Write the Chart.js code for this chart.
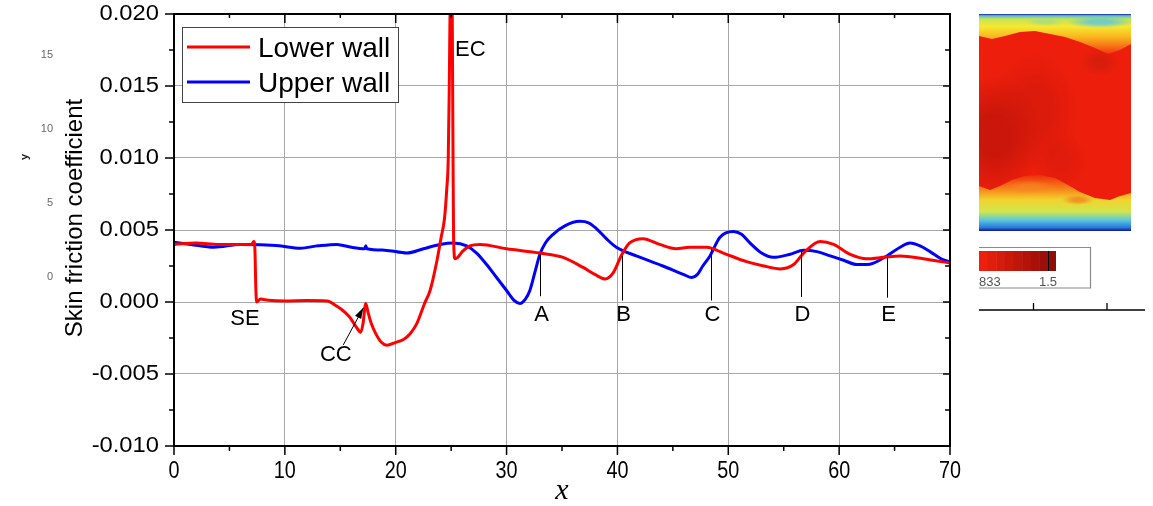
<!DOCTYPE html>
<html>
<head>
<meta charset="utf-8">
<script src="https://cdn.jsdelivr.net/npm/chart.js@4.4.1/dist/chart.umd.min.js"></script>
<style>
  html, body { margin: 0; padding: 0; background: #fff; }
  canvas { display: block; }
</style>
</head>
<body>
<canvas id="cf" width="1153" height="506"></canvas>
<script>
// Skin friction coefficient along the lower and upper walls
const lowerX = [0, 2, 4, 6, 7.0, 7.2, 7.3, 7.38, 7.45, 7.8, 8.5, 10, 12, 13.8, 14.7, 15.4, 15.9, 16.4, 16.85,
  17.05, 17.3, 17.5, 17.8, 18.2, 18.7, 19.2, 20.0, 20.7, 21.3, 21.9, 22.6, 23.1, 23.7, 24.1, 24.4,
  24.6, 24.74, 24.83, 24.9, 25.0, 25.1, 25.17, 25.22, 25.35, 25.6, 26.0, 26.7, 27.6, 30.0, 33.0, 35.1, 36.9,
  38.0, 38.9, 39.6, 40.4, 41.1, 42.3, 43.8, 45.3, 46.5, 48.05, 49.55, 51.65, 53.2, 54.7, 55.9, 56.8, 58.3,
  59.5, 61.0, 62.5, 64.0, 65.5, 67.6, 70];
const lowerCf = [0.0040, 0.0041, 0.0040, 0.0040, 0.0040, 0.0042, 0.0036, 0.0010, 0.0000, 0.0002, 0.00012,
  0.00007, 0.0001, 0.00007, -0.0003, -0.0007, -0.0011, -0.0017, -0.0021, -0.0015, -0.0001, -0.0007, -0.0015,
  -0.0022, -0.0028, -0.0030, -0.0028, -0.0026, -0.0022, -0.0015, -0.0001, 0.0008, 0.0028, 0.0045,
  0.0058, 0.0078, 0.0100, 0.0150, 0.0200, 0.0260, 0.0200, 0.0100, 0.0045, 0.0030, 0.0031, 0.0035, 0.0039,
  0.0040, 0.0037, 0.0034, 0.0031, 0.0024, 0.0019, 0.0016, 0.0020, 0.0033, 0.0041, 0.0044, 0.0040, 0.0037,
  0.0038, 0.0038, 0.0034, 0.0028, 0.0025, 0.0023, 0.0026, 0.0034, 0.0042, 0.0040, 0.0033, 0.0030, 0.0031,
  0.0032, 0.0030, 0.0027];

const upperX = [0, 1.5, 3.6, 6.0, 7.8, 9.5, 11.4, 13.0, 14.7, 16.0, 17.2, 17.3, 17.4, 19.0, 21.0, 22.5, 24.0,
  25.2, 26.4, 27.3, 28.2, 29.1, 30.0, 30.7, 31.2, 31.7, 32.1, 32.6, 33.0, 33.5, 34.2, 35.3, 36.6, 37.4, 38.1,
  39.0, 39.9, 41.7, 44.1, 46.0, 46.7, 47.2, 47.7, 48.35, 49.25, 50.45, 51.2, 51.95, 53.0, 54.05, 55.5, 56.8,
  58.0, 59.2, 60.4, 61.6, 62.5, 63.1, 64.3, 65.5, 66.4, 67.3, 68.2, 69.2, 70];
const upperCf = [0.00415, 0.0040, 0.0038, 0.0040, 0.00397, 0.0039, 0.00374, 0.0039, 0.0040, 0.0038, 0.0037,
  0.0039, 0.0037, 0.0036, 0.0034, 0.0037, 0.0040, 0.0041, 0.0039, 0.0034, 0.0026, 0.0017, 0.0008, 0.0001,
  -0.0001, 0.0002, 0.0008, 0.0022, 0.0033, 0.0041, 0.0047, 0.0053, 0.0056, 0.0055, 0.0051, 0.0044, 0.0038,
  0.0032, 0.0025, 0.0019, 0.0017, 0.0019, 0.0025, 0.0032, 0.0045, 0.0049, 0.0047, 0.0041, 0.0034, 0.0031,
  0.0033, 0.0036, 0.0035, 0.0032, 0.0029, 0.0026, 0.0026, 0.0027, 0.0032, 0.0038, 0.0041, 0.0039, 0.0035,
  0.0030, 0.0028];

const xTickValues = [0, 10, 20, 30, 40, 50, 60, 70];
const yTickValues = [-0.010, -0.005, 0.000, 0.005, 0.010, 0.015, 0.020];
const seriesNames = ['Lower wall', 'Upper wall'];

// Marked stations along the channel
const markNames = ['A', 'B', 'C', 'D', 'E'];
const markX = [33.0, 40.4, 48.4, 56.6, 64.3];
const markTop = [0.0033, 0.0032, 0.0037, 0.0035, 0.0031];
const markBottom = [0.0004, 0.0001, 0.0001, 0.00035, 0.0003];

const toPoints = (xs, ys) => xs.map((v, i) => ({ x: v, y: ys[i] }));
const FONT = '"Liberation Sans", Arial, sans-serif';

function line(ctx, x1, y1, x2, y2) {
  ctx.beginPath(); ctx.moveTo(x1, y1); ctx.lineTo(x2, y2); ctx.stroke();
}

// Side panel: instantaneous field snapshot, colour bar and axis strip
function drawField(ctx) {
  const L = 979, T = 14, R = 1131, B = 231;
  ctx.save();
  ctx.beginPath(); ctx.rect(L, T, R - L, B - T); ctx.clip();
  ctx.fillStyle = 'rgb(238,30,12)';
  ctx.fillRect(L, T, R - L, B - T);

  const blob = (cx, cy, rx, ry, col, edge) => {
    ctx.save();
    ctx.translate(cx, cy); ctx.scale(rx, ry);
    const g = ctx.createRadialGradient(0, 0, 0, 0, 0, 1);
    g.addColorStop(0, col); g.addColorStop(0.35, col); g.addColorStop(1, edge);
    ctx.fillStyle = g;
    ctx.beginPath(); ctx.arc(0, 0, 1, 0, Math.PI * 2); ctx.fill();
    ctx.restore();
  };
  // darker core of the field
  blob(995, 135, 48, 60, 'rgba(190,20,10,0.75)', 'rgba(190,20,10,0)');
  blob(1035, 110, 45, 60, 'rgba(205,24,10,0.55)', 'rgba(205,24,10,0)');
  blob(1060, 160, 30, 30, 'rgba(210,25,10,0.45)', 'rgba(210,25,10,0)');
  blob(1100, 62, 20, 14, 'rgba(200,28,10,0.55)', 'rgba(200,28,10,0)');

  // upper boundary layer
  const topEdge = [[979, 36], [992, 39], [1005, 36], [1020, 32], [1035, 31], [1050, 34], [1065, 37],
    [1080, 42], [1095, 48], [1108, 54], [1120, 50], [1131, 44]];
  ctx.save();
  ctx.beginPath(); ctx.moveTo(L, T);
  topEdge.forEach(p => ctx.lineTo(p[0], p[1]));
  ctx.lineTo(R, T); ctx.closePath(); ctx.clip();
  let g = ctx.createLinearGradient(0, T, 0, 56);
  g.addColorStop(0, 'rgb(15,25,160)');
  g.addColorStop(0.04, 'rgb(90,185,215)');
  g.addColorStop(0.12, 'rgb(200,228,80)');
  g.addColorStop(0.3, 'rgb(246,232,50)');
  g.addColorStop(0.55, 'rgb(250,180,30)');
  g.addColorStop(0.78, 'rgb(246,110,22)');
  g.addColorStop(1, 'rgb(238,40,12)');
  ctx.fillStyle = g; ctx.fillRect(L, T, R - L, 44);
  blob(1100, 22, 34, 6, 'rgba(90,200,225,0.8)', 'rgba(90,200,225,0)');
  blob(1045, 22, 20, 4, 'rgba(150,215,150,0.6)', 'rgba(150,215,150,0)');
  ctx.restore();

  // lower boundary layer
  const botEdge = [[979, 186], [990, 190], [1000, 186], [1012, 180], [1025, 176], [1040, 175], [1055, 178],
    [1068, 185], [1080, 192], [1095, 198], [1110, 200], [1120, 196], [1131, 193]];
  ctx.save();
  ctx.beginPath(); ctx.moveTo(L, B);
  botEdge.forEach(p => ctx.lineTo(p[0], p[1]));
  ctx.lineTo(R, B); ctx.closePath(); ctx.clip();
  g = ctx.createLinearGradient(0, 174, 0, B);
  g.addColorStop(0, 'rgb(238,40,12)');
  g.addColorStop(0.22, 'rgb(246,115,24)');
  g.addColorStop(0.45, 'rgb(242,210,45)');
  g.addColorStop(0.66, 'rgb(210,230,75)');
  g.addColorStop(0.81, 'rgb(90,200,220)');
  g.addColorStop(0.94, 'rgb(40,120,220)');
  g.addColorStop(1, 'rgb(15,20,150)');
  ctx.fillStyle = g; ctx.fillRect(L, 170, R - L, B - 170);
  blob(1030, 187, 26, 7, 'rgba(246,135,35,0.6)', 'rgba(246,135,35,0)');
  blob(1078, 200, 16, 5, 'rgba(240,90,20,0.5)', 'rgba(240,90,20,0)');
  ctx.restore();
  ctx.restore();

  // colour bar
  ctx.save();
  ctx.fillStyle = '#fff';
  ctx.fillRect(979, 247, 112, 41);
  ctx.strokeStyle = '#8a8a8a'; ctx.lineWidth = 1.2;
  ctx.beginPath();
  ctx.moveTo(979, 247.5); ctx.lineTo(1090.5, 247.5); ctx.lineTo(1090.5, 288); ctx.lineTo(979, 288);
  ctx.stroke();
  const steps = 8, x0 = 979, x1 = 1048;
  for (let i = 0; i < steps; i++) {
    const t = i / (steps - 1);
    const r = Math.round(236 - t * 80), gg = Math.round(32 - t * 18), b = Math.round(12 - t * 4);
    ctx.fillStyle = `rgb(${r},${gg},${b})`;
    ctx.fillRect(x0 + (x1 - x0) * i / steps, 251, (x1 - x0) / steps + 0.5, 20);
  }
  ctx.fillStyle = 'rgb(140,14,8)';
  ctx.fillRect(1048, 251, 8, 20);
  ctx.strokeStyle = '#000'; ctx.lineWidth = 1;
  line(ctx, 1048.5, 251, 1048.5, 271);
  ctx.fillStyle = '#555';
  ctx.font = '13px ' + FONT;
  ctx.textBaseline = 'alphabetic';
  ctx.textAlign = 'left'; ctx.fillText('833', 979, 286);
  ctx.textAlign = 'right'; ctx.fillText('1.5', 1057, 286);

  // axis strip under the panel
  ctx.strokeStyle = '#000'; ctx.lineWidth = 1.3;
  line(ctx, 979, 310, 1145, 310);
  line(ctx, 1033.5, 303, 1033.5, 310);
  line(ctx, 1107, 303, 1107, 310);
  ctx.restore();

  // y axis of the neighbouring panel
  ctx.save();
  ctx.fillStyle = '#666';
  ctx.font = '11px ' + FONT;
  ctx.textAlign = 'right'; ctx.textBaseline = 'middle';
  [['15', 55], ['10', 129], ['5', 203], ['0', 277]].forEach(t => ctx.fillText(t[0], 53, t[1]));
  ctx.translate(25, 157); ctx.rotate(-Math.PI / 2);
  ctx.fillStyle = '#222'; ctx.font = 'bold 11px ' + FONT; ctx.textAlign = 'center';
  ctx.fillText('y', 0, 0);
  ctx.restore();
}

const decor = {
  id: 'decor',
  beforeDraw(chart) {
    const ctx = chart.ctx;
    ctx.save();
    ctx.fillStyle = '#fff';
    ctx.fillRect(0, 0, chart.width, chart.height);
    ctx.restore();
    drawField(ctx);
  },
  afterDatasetsDraw(chart) {
    const { ctx, chartArea: a, scales: { x, y } } = chart;
    ctx.save();

    // station markers
    ctx.strokeStyle = '#000'; ctx.lineWidth = 1;
    ctx.fillStyle = '#000';
    ctx.font = '22px ' + FONT;
    ctx.textAlign = 'center'; ctx.textBaseline = 'middle';
    markNames.forEach((n, i) => {
      const px = Math.round(x.getPixelForValue(markX[i])) + 0.5;
      line(ctx, px, y.getPixelForValue(markTop[i]), px, y.getPixelForValue(markBottom[i]));
      ctx.fillText(n, px + 1, y.getPixelForValue(-0.00088));
    });
    ctx.fillText('SE', x.getPixelForValue(6.4), y.getPixelForValue(-0.00118));
    ctx.fillText('CC', x.getPixelForValue(14.6), y.getPixelForValue(-0.00367));
    ctx.textAlign = 'left';
    ctx.fillText('EC', x.getPixelForValue(25.35), y.getPixelForValue(0.01752));

    // arrow pointing at CC
    const tx = x.getPixelForValue(15.27), ty = y.getPixelForValue(-0.00298);
    const hx = x.getPixelForValue(17.08), hy = y.getPixelForValue(-0.0004);
    line(ctx, tx, ty, hx, hy);
    const ang = Math.atan2(hy - ty, hx - tx);
    ctx.beginPath();
    ctx.moveTo(hx, hy);
    ctx.lineTo(hx - 11 * Math.cos(ang) + 3.5 * Math.sin(ang), hy - 11 * Math.sin(ang) - 3.5 * Math.cos(ang));
    ctx.lineTo(hx - 11 * Math.cos(ang) - 3.5 * Math.sin(ang), hy - 11 * Math.sin(ang) + 3.5 * Math.cos(ang));
    ctx.closePath(); ctx.fill();

    // legend
    ctx.fillStyle = '#fff';
    ctx.fillRect(182, 27, 216, 75);
    ctx.strokeStyle = '#444'; ctx.lineWidth = 1;
    ctx.strokeRect(182.5, 27.5, 216, 75);
    const legendColors = chart.data.datasets.map(d => d.borderColor);
    ctx.lineWidth = 3;
    ctx.font = '28px ' + FONT;
    ctx.textAlign = 'left'; ctx.textBaseline = 'alphabetic';
    seriesNames.forEach((n, i) => {
      const ly = 47 + i * 35;
      ctx.strokeStyle = legendColors[i];
      line(ctx, 187, ly, 250, ly);
      ctx.fillStyle = '#000';
      ctx.fillText(n, 258, ly + 10);
    });

    // ticks on all four sides
    ctx.strokeStyle = '#000'; ctx.lineWidth = 1.5;
    for (let i = 0; i < xTickValues.length; i++) {
      const px = x.getPixelForValue(xTickValues[i]);
      line(ctx, px, a.bottom, px, a.bottom + 9);
      line(ctx, px, a.top, px, a.top + 9);
      if (i < xTickValues.length - 1) {
        const mx = x.getPixelForValue((xTickValues[i] + xTickValues[i + 1]) / 2);
        line(ctx, mx, a.bottom, mx, a.bottom + 5);
        line(ctx, mx, a.top, mx, a.top + 4);
      }
    }
    for (let i = 0; i < yTickValues.length; i++) {
      const py = y.getPixelForValue(yTickValues[i]);
      line(ctx, a.left - 9, py, a.left, py);
      line(ctx, a.right - 7, py, a.right, py);
      if (i < yTickValues.length - 1) {
        const my = y.getPixelForValue((yTickValues[i] + yTickValues[i + 1]) / 2);
        line(ctx, a.left - 5, my, a.left, my);
        line(ctx, a.right - 5, my, a.right, my);
      }
    }
    ctx.lineWidth = 2;
    ctx.strokeRect(a.left, a.top, a.right - a.left, a.bottom - a.top);

    // tick labels
    ctx.fillStyle = '#000';
    ctx.font = '22px ' + FONT;
    ctx.textAlign = 'right'; ctx.textBaseline = 'middle';
    yTickValues.forEach(v => {
      ctx.save();
      ctx.translate(a.left - 15, y.getPixelForValue(v));
      ctx.scale(1.08, 1);
      ctx.fillText(v.toFixed(3), 0, 0);
      ctx.restore();
    });
    ctx.textAlign = 'center';
    xTickValues.forEach(v => {
      ctx.save();
      ctx.translate(x.getPixelForValue(v), 471);
      ctx.scale(0.9, 1.1);
      ctx.fillText(String(v), 0, 0);
      ctx.restore();
    });

    // axis titles
    ctx.font = 'italic 30px "Liberation Serif", "Times New Roman", serif';
    ctx.fillText('x', (a.left + a.right) / 2, 491);
    ctx.translate(75, 218);
    ctx.rotate(-Math.PI / 2);
    ctx.font = '24px ' + FONT;
    ctx.fillText('Skin friction coefficient', 0, 0);
    ctx.restore();
  }
};

new Chart(document.getElementById('cf'), {
  type: 'line',
  data: {
    datasets: [
      { label: seriesNames[0], data: toPoints(lowerX, lowerCf), borderColor: '#ff0000', borderWidth: 3,
        pointRadius: 0, cubicInterpolationMode: 'monotone', fill: false },
      { label: seriesNames[1], data: toPoints(upperX, upperCf), borderColor: '#0000ff', borderWidth: 3,
        pointRadius: 0, cubicInterpolationMode: 'monotone', fill: false }
    ]
  },
  options: {
    responsive: false,
    devicePixelRatio: 1,
    animation: false,
    layout: { padding: { left: 174, right: 203, top: 14, bottom: 60 } },
    plugins: { legend: { display: false }, tooltip: { enabled: false } },
    scales: {
      x: {
        type: 'linear', min: 0, max: 70,
        ticks: { display: false, stepSize: 10 },
        grid: { color: '#a8a8a8', lineWidth: 1, drawTicks: false },
        border: { display: false },
        afterFit(s) { s.height = 0; }
      },
      y: {
        type: 'linear', min: -0.010, max: 0.020,
        ticks: { display: false, stepSize: 0.005 },
        grid: { color: '#a8a8a8', lineWidth: 1, drawTicks: false },
        border: { display: false },
        afterFit(s) { s.width = 0; }
      }
    }
  },
  plugins: [decor]
});
</script>
</body>
</html>
